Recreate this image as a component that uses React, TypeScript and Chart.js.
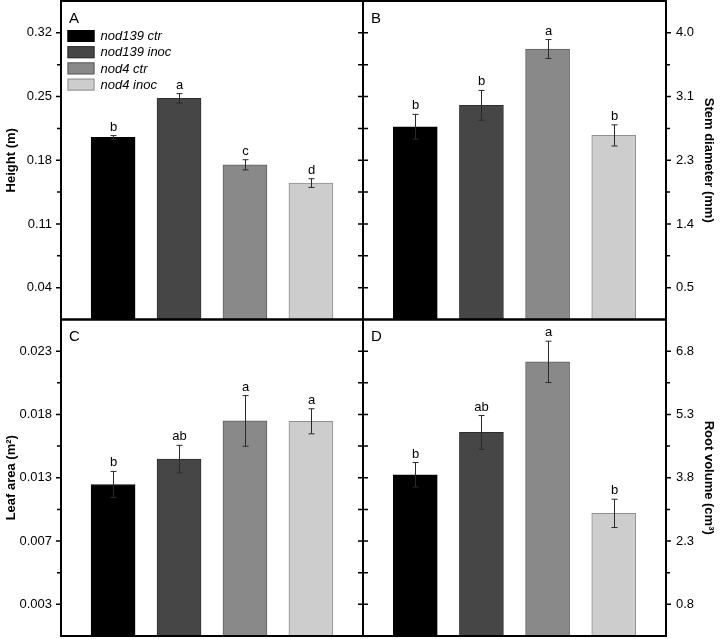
import React, { useEffect, useRef } from 'react';
import { Chart, registerables } from 'chart.js';

Chart.register(...registerables);

const FONT = '"Liberation Sans", Arial, Helvetica, sans-serif';

const GROUPS = ['nod139 ctr', 'nod139 inoc', 'nod4 ctr', 'nod4 inoc'];
const FILLS = ['#000000', '#464646', '#898989', '#cdcdcd'];
const EDGES = ['#000000', '#2e2e2e', '#5f5f5f', '#8f8f8f'];

const HEIGHT = [0.2051, 0.248, 0.175, 0.1549];
const HEIGHT_SE = [0.002, 0.0052, 0.0056, 0.0048];
const HEIGHT_LETTERS = ['b', 'a', 'c', 'd'];
const HEIGHT_TICKS = [0.04, 0.11, 0.18, 0.25, 0.32];
const HEIGHT_LABELS = ['0.04', '0.11', '0.18', '0.25', '0.32'];

const STEM = [2.71, 3.004, 3.778, 2.591];
const STEM_SE = [0.17, 0.205, 0.13, 0.145];
const STEM_LETTERS = ['b', 'b', 'a', 'b'];
const STEM_TICKS = [0.5, 1.375, 2.25, 3.125, 4.0];
const STEM_LABELS = ['0.5', '1.4', '2.3', '3.1', '4.0'];

const LEAF = [0.01197, 0.01397, 0.01699, 0.01696];
const LEAF_SE = [0.00103, 0.00109, 0.002, 0.00099];
const LEAF_LETTERS = ['b', 'ab', 'a', 'a'];
const LEAF_TICKS = [0.0025, 0.0075, 0.0125, 0.0175, 0.0225];
const LEAF_LABELS = ['0.003', '0.007', '0.013', '0.018', '0.023'];

const ROOT = [3.87, 4.874, 6.546, 2.956];
const ROOT_SE = [0.29, 0.4, 0.49, 0.335];
const ROOT_LETTERS = ['b', 'ab', 'a', 'b'];
const ROOT_TICKS = [0.8, 2.3, 3.8, 5.3, 6.8];
const ROOT_LABELS = ['0.8', '2.3', '3.8', '5.3', '6.8'];

type Panel = {
  letter: string;
  values: number[];
  se: number[];
  letters: string[];
  ticks: number[];
  labels: string[];
  min: number;
  max: number;
  title: string;
  side: 'left' | 'right';
  pad: { left: number; right: number; top: number; bottom: number };
  legend: boolean;
};

const PANELS: Panel[] = [
  {
    letter: 'A', values: HEIGHT, se: HEIGHT_SE, letters: HEIGHT_LETTERS,
    ticks: HEIGHT_TICKS, labels: HEIGHT_LABELS, min: 0.005, max: 0.355,
    title: 'Height (m)', side: 'left',
    pad: { left: 0, right: 357, top: 1, bottom: 319.5 }, legend: true,
  },
  {
    letter: 'B', values: STEM, se: STEM_SE, letters: STEM_LETTERS,
    ticks: STEM_TICKS, labels: STEM_LABELS, min: 0.0625, max: 4.4375,
    title: 'Stem diameter (mm)', side: 'right',
    pad: { left: 363, right: 0, top: 1, bottom: 319.5 }, legend: false,
  },
  {
    letter: 'C', values: LEAF, se: LEAF_SE, letters: LEAF_LETTERS,
    ticks: LEAF_TICKS, labels: LEAF_LABELS, min: 0, max: 0.025,
    title: 'Leaf area (m²)', side: 'left',
    pad: { left: 0, right: 357, top: 319.5, bottom: 3 }, legend: false,
  },
  {
    letter: 'D', values: ROOT, se: ROOT_SE, letters: ROOT_LETTERS,
    ticks: ROOT_TICKS, labels: ROOT_LABELS, min: 0.05, max: 7.55,
    title: 'Root volume (cm³)', side: 'right',
    pad: { left: 363, right: 0, top: 319.5, bottom: 3 }, legend: false,
  },
];

function makeDecor(p: Panel) {
  return {
    id: 'decor' + p.letter,
    afterDatasetsDraw(chart: any) {
      const ctx = chart.ctx;
      const xs = chart.scales.x;
      const ys = chart.scales.y;
      ctx.save();
      ctx.strokeStyle = '#2a2a2a';
      ctx.lineWidth = 1;
      p.values.forEach((v, i) => {
        const x = Math.round(xs.getPixelForValue(i)) + 0.5;
        const yt = ys.getPixelForValue(v + p.se[i]);
        const yb = ys.getPixelForValue(v - p.se[i]);
        ctx.beginPath();
        ctx.moveTo(x, yt);
        ctx.lineTo(x, yb);
        ctx.moveTo(x - 3, yt);
        ctx.lineTo(x + 3, yt);
        ctx.moveTo(x - 3, yb);
        ctx.lineTo(x + 3, yb);
        ctx.stroke();
        ctx.fillStyle = '#000';
        ctx.font = `13px ${FONT}`;
        ctx.textAlign = 'center';
        ctx.textBaseline = 'alphabetic';
        ctx.fillText(p.letters[i], x, yt - 5);
      });
      ctx.restore();
    },
    afterDraw(chart: any) {
      const ctx = chart.ctx;
      const ys = chart.scales.y;
      const { left, right, top, bottom } = chart.chartArea;
      ctx.save();
      // frame
      ctx.strokeStyle = '#000';
      ctx.lineWidth = 2;
      ctx.beginPath();
      ctx.moveTo(left, top);
      ctx.lineTo(right, top);
      ctx.lineTo(right, bottom);
      ctx.lineTo(left, bottom);
      ctx.closePath();
      ctx.stroke();
      // ticks
      const minors: number[] = [];
      for (let i = 0; i < p.ticks.length - 1; i++) minors.push((p.ticks[i] + p.ticks[i + 1]) / 2);
      ctx.lineWidth = 1.5;
      const drawTick = (v: number, len: number) => {
        const y = ys.getPixelForValue(v);
        ctx.beginPath();
        if (p.side === 'left') {
          ctx.moveTo(left - len, y);
          ctx.lineTo(left, y);
          ctx.moveTo(right - 5, y);
          ctx.lineTo(right, y);
        } else {
          ctx.moveTo(right, y);
          ctx.lineTo(right + len, y);
          ctx.moveTo(left, y);
          ctx.lineTo(left + 5, y);
        }
        ctx.stroke();
      };
      p.ticks.forEach((v) => drawTick(v, 5));
      minors.forEach((v) => drawTick(v, 4));
      // panel letter
      ctx.fillStyle = '#000';
      ctx.font = `15px ${FONT}`;
      ctx.textAlign = 'left';
      ctx.textBaseline = 'top';
      ctx.fillText(p.letter, left + 8, top + 10);
      // legend
      if (p.legend) {
        const bx = left + 6.5;
        const by = top + 29;
        GROUPS.forEach((g, i) => {
          const y = by + i * 16.2;
          ctx.fillStyle = FILLS[i];
          ctx.fillRect(bx, y, 27, 12);
          ctx.strokeStyle = EDGES[i];
          ctx.lineWidth = 1;
          ctx.strokeRect(bx + 0.5, y + 0.5, 26, 11);
          ctx.fillStyle = '#000';
          ctx.font = `italic 13px ${FONT}`;
          ctx.textAlign = 'left';
          ctx.textBaseline = 'middle';
          ctx.fillText(g, bx + 33, y + 6.5);
        });
      }
      ctx.restore();
    },
  };
}

export default function App() {
  const refs = [useRef<HTMLCanvasElement>(null), useRef<HTMLCanvasElement>(null), useRef<HTMLCanvasElement>(null), useRef<HTMLCanvasElement>(null)];

  useEffect(() => {
    Chart.defaults.font.family = FONT;
    const charts = PANELS.map((p, k) => {
      const canvas = refs[k].current!;
      return new Chart(canvas, {
        type: 'bar',
        data: {
          datasets: [
            {
              data: p.values.map((v, i) => ({ x: i, y: v })),
              backgroundColor: FILLS,
              borderColor: EDGES,
              borderWidth: 1,
              barThickness: 44,
              borderSkipped: 'start',
            } as any,
          ],
        },
        options: {
          animation: false,
          responsive: false,
          devicePixelRatio: 1,
          layout: { padding: p.pad },
          plugins: { legend: { display: false }, tooltip: { enabled: false } },
          scales: {
            x: {
              type: 'linear',
              display: false,
              offset: false,
              min: -0.79,
              max: 3.79,
              afterFit: (s: any) => {
                s.paddingLeft = 0;
                s.paddingRight = 0;
                s.paddingTop = 0;
                s.paddingBottom = 0;
              },
            },
            y: {
              type: 'linear',
              position: p.side,
              min: p.min,
              max: p.max,
              afterBuildTicks: (s: any) => {
                s.ticks = p.ticks.map((v) => ({ value: v }));
              },
              afterFit: (s: any) => {
                s.width = p.side === 'left' ? 61 : 54;
                s.paddingTop = 0;
                s.paddingBottom = 0;
                s.paddingLeft = 0;
                s.paddingRight = 0;
              },
              grid: { display: false, drawTicks: false },
              border: { display: false },
              ticks: {
                callback: (_v: any, i: number) => p.labels[i],
                padding: p.side === 'left' ? 9 : 10,
                color: '#000',
                font: { size: 13, family: FONT },
                autoSkip: false,
              },
              title: {
                display: true,
                text: p.title,
                color: '#000',
                font: { size: 13, weight: 'bold', family: FONT },
                padding: { top: 4, bottom: 4 },
              },
            },
          },
        } as any,
        plugins: [makeDecor(p)],
      });
    });
    return () => charts.forEach((c) => c.destroy());
  }, []);

  return (
    <div style={{ position: 'absolute', left: 0, top: 0, width: 720, height: 639, background: '#fff' }}>
      {refs.map((r, k) => (
        <canvas
          key={k}
          ref={r}
          width={720}
          height={639}
          style={{ position: 'absolute', left: 0, top: 0, width: 720, height: 639 }}
        />
      ))}
    </div>
  );
}
